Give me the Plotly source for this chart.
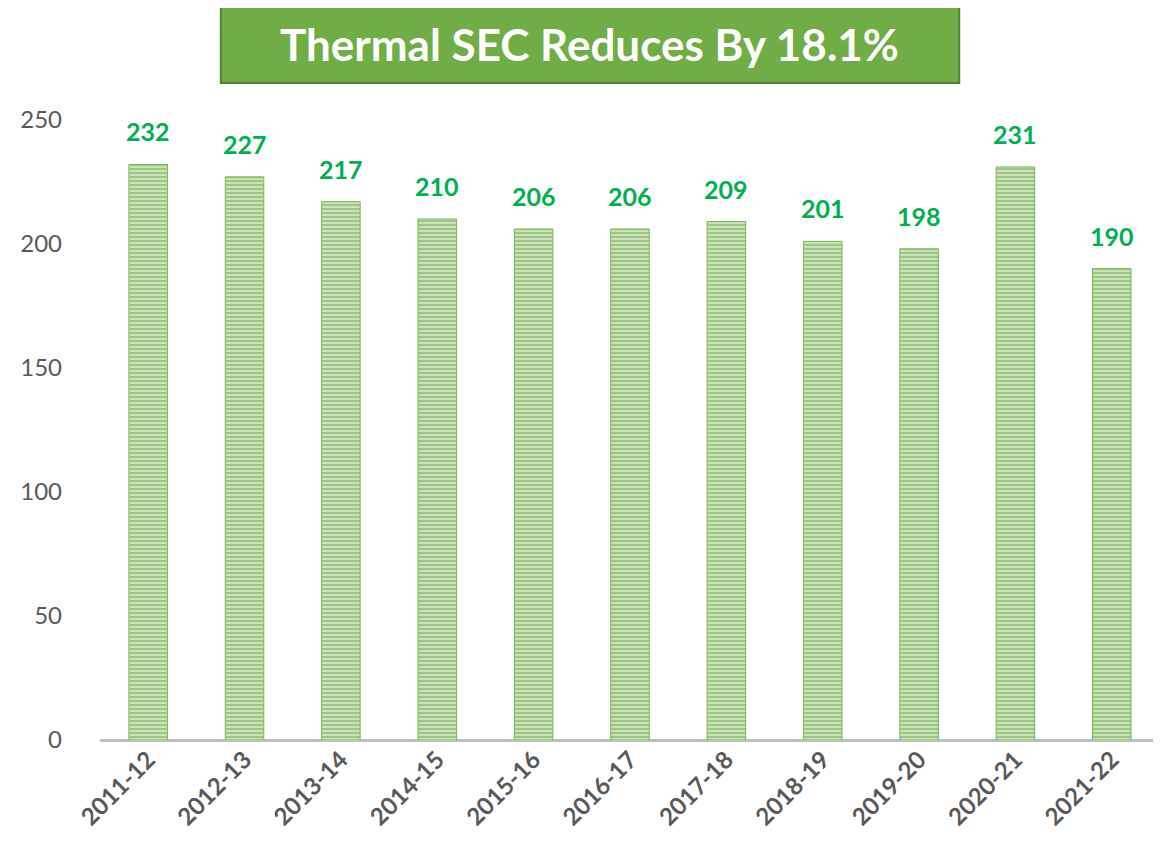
import plotly.graph_objects as go

years = ["2011-12", "2012-13", "2013-14", "2014-15", "2015-16", "2016-17",
         "2017-18", "2018-19", "2019-20", "2020-21", "2021-22"]
sec = [232, 227, 217, 210, 206, 206, 209, 201, 198, 231, 190]
y_ticks = [0, 50, 100, 150, 200, 250]
title_text = "Thermal SEC Reduces By 18.1%"

FONT = "Lato, 'Open Sans', sans-serif"

fig = go.Figure()
fig.add_trace(go.Bar(
    x=years, y=sec, width=0.4,
    marker=dict(
        color="#ffffff",
        line=dict(color="#7cb552", width=1),
        pattern=dict(shape="-", fgcolor="#62a338", bgcolor="#d6e9ca",
                     size=4, solidity=0.6),
    ),
    hoverinfo="x+y",
))

for xv, yv in zip(years, sec):
    fig.add_annotation(x=xv, y=yv, text=f"<b>{yv}</b>", showarrow=False,
                       yanchor="bottom", yshift=16,
                       font=dict(family=FONT, size=25, color="#00B050"))

# title box
fig.add_shape(type="rect", xref="paper", yref="paper",
              x0=0.114, x1=0.8106, y0=1.0186, y1=1.1395,
              fillcolor="#70AD47", line=dict(color="#548235", width=2),
              layer="below")
fig.add_annotation(xref="paper", yref="paper", x=0.4618, y=1.079,
                   xanchor="center", yanchor="middle",
                   text=f"<b>{title_text}</b>", showarrow=False,
                   font=dict(family=FONT, size=44, color="#ffffff"))

# page body adds an 8px offset; compensate in size and margins
fig.update_layout(
    width=1153, height=850,
    margin=dict(l=92, r=1, t=87, b=118),
    plot_bgcolor="#ffffff", paper_bgcolor="#ffffff",
    showlegend=False,
    bargap=0.6,
    xaxis=dict(
        type="category", range=[-0.5, 10.5], automargin=False,
        tickangle=-45, showgrid=False, ticks="",
        tickfont=dict(family=FONT, size=24, color="#595959", weight="bold"),
        showline=False, zeroline=False,
    ),
    yaxis=dict(
        range=[0, 260], tickvals=y_ticks, showgrid=False, automargin=False,
        zeroline=True, zerolinecolor="#BFBFBF", zerolinewidth=3,
        showline=False, ticks="", ticklabelstandoff=37,
        tickfont=dict(family=FONT, size=24, color="#595959"),
    ),
)

fig.write_html("out.html")
